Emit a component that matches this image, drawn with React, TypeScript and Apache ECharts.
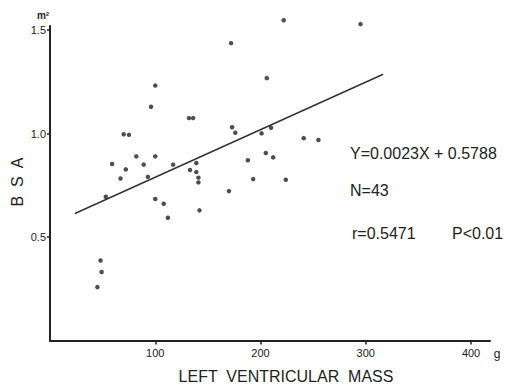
import React, { useEffect, useRef } from "react";
import * as echarts from "echarts";

// Left ventricular mass (g)
const massG = [
  172, 222, 295, 206, 100, 96, 132, 136, 70, 75, 173, 176, 82, 100, 59, 89, 117, 139,
  72, 133, 139, 141, 141, 201, 210, 241, 255, 188, 205, 212, 193, 224, 170, 108, 142,
  112, 67, 93, 53, 100, 48, 49, 45,
];
// Body surface area (m²)
const bsa = [
  1.437, 1.548, 1.529, 1.268, 1.232, 1.13, 1.075, 1.075, 0.997, 0.994, 1.031, 1.004,
  0.89, 0.89, 0.853, 0.85, 0.85, 0.858, 0.827, 0.824, 0.814, 0.787, 0.764, 1.001, 1.028,
  0.978, 0.969, 0.871, 0.906, 0.885, 0.78, 0.777, 0.722, 0.661, 0.629, 0.593, 0.783,
  0.791, 0.695, 0.684, 0.387, 0.331, 0.258,
];
// Regression line endpoints as drawn
const lineX = [23.7, 316.5];
const lineY = [0.614, 1.287];

const xTicks = [100, 200, 300, 400];
const yTicks = [0.5, 1.0, 1.5];

const annotations = ["Y=0.0023X + 0.5788", "N=43", "r=0.5471", "P<0.01"];

const INK = "#222";
const FONT = "'Liberation Sans', Arial, sans-serif";

export default function App() {
  const ref = useRef<HTMLDivElement>(null);
  useEffect(() => {
    document.body.style.margin = "0";
    if (!ref.current) return;
    const chart = echarts.init(ref.current, null, { renderer: "svg" });
    const points = massG.map((x, i) => [x, bsa[i]]);
    const line = lineX.map((x, i) => [x, lineY[i]]);
    chart.setOption({
      animation: false,
      backgroundColor: "#fff",
      grid: { left: 50, top: 26, width: 440, height: 314.5 },
      xAxis: {
        type: "value",
        min: 0,
        max: 418,
        interval: 100,
        splitLine: { show: false },
        axisLine: { show: true, onZero: false, lineStyle: { color: INK, width: 2 } },
        axisTick: { show: true, length: 4, customValues: xTicks, lineStyle: { color: INK, width: 1.5 } },
        axisLabel: {
          customValues: xTicks,
          color: INK,
          fontFamily: FONT,
          fontSize: 11,
          margin: 7,
        },
      },
      yAxis: {
        type: "value",
        min: 0,
        max: 1.52,
        splitLine: { show: false },
        axisLine: { show: true, onZero: false, lineStyle: { color: INK, width: 2 } },
        axisTick: { show: true, length: 3, customValues: yTicks, lineStyle: { color: INK, width: 1.5 } },
        axisLabel: {
          customValues: yTicks,
          formatter: (v: number) => v.toFixed(1),
          color: INK,
          fontFamily: FONT,
          fontSize: 11,
          margin: 4,
        },
      },
      series: [
        {
          type: "line",
          data: line,
          symbol: "none",
          lineStyle: { color: "#333", width: 1.5 },
          z: 1,
        },
        {
          type: "scatter",
          data: points,
          symbol: "circle",
          symbolSize: 4.5,
          clip: false,
          itemStyle: { color: INK },
          z: 2,
        },
      ],
      graphic: [
        { type: "text", x: 43, y: 15, style: { text: "m²", font: `bold 10px ${FONT}`, fill: INK, align: "center", verticalAlign: "middle" } },
        { type: "text", x: 497, y: 354, style: { text: "g", font: `12px ${FONT}`, fill: INK, align: "center", verticalAlign: "middle" } },
        { type: "text", x: 286, y: 376, style: { text: "LEFT  VENTRICULAR  MASS", font: `16px ${FONT}`, fill: INK, align: "center", verticalAlign: "middle" } },
        { type: "text", x: 17, y: 182, rotation: Math.PI / 2, style: { text: "B  S  A", font: `16px ${FONT}`, fill: INK, align: "center", verticalAlign: "middle" } },
        { type: "text", x: 350, y: 153, style: { text: annotations[0], font: `16px ${FONT}`, fill: INK, align: "left", verticalAlign: "middle" } },
        { type: "text", x: 350, y: 190, style: { text: annotations[1], font: `16px ${FONT}`, fill: INK, align: "left", verticalAlign: "middle" } },
        { type: "text", x: 352, y: 233, style: { text: annotations[2], font: `16px ${FONT}`, fill: INK, align: "left", verticalAlign: "middle" } },
        { type: "text", x: 452, y: 233, style: { text: annotations[3], font: `16px ${FONT}`, fill: INK, align: "left", verticalAlign: "middle" } },
      ],
    });
    return () => chart.dispose();
  }, []);
  return <div ref={ref} style={{ width: 505, height: 386 }} />;
}
